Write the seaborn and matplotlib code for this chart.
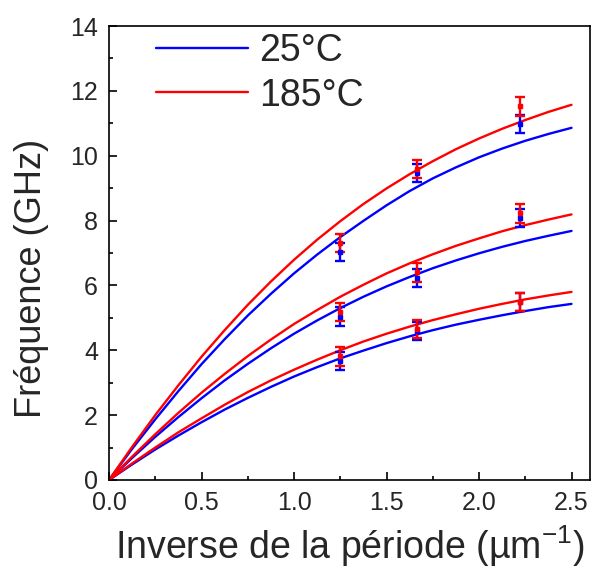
import matplotlib
matplotlib.use("Agg")
import matplotlib.pyplot as plt
from matplotlib.ticker import MultipleLocator, FormatStrFormatter
import seaborn as sns
import pandas as pd

# ---- curve samples (x in µm^-1, y in GHz) ----
x_curve = [0.0, 0.125, 0.25, 0.375, 0.5, 0.625, 0.75, 0.875, 1.0, 1.125, 1.25,
           1.375, 1.5, 1.625, 1.75, 1.875, 2.0, 2.125, 2.25, 2.375, 2.5]
top_25 = [0.0, 0.96, 1.87, 2.74, 3.57, 4.34, 5.07, 5.74, 6.37, 6.95, 7.49,
          7.99, 8.47, 8.91, 9.30, 9.64, 9.95, 10.22, 10.46, 10.67, 10.86]
mid_25 = [0.0, 0.68, 1.33, 1.94, 2.52, 3.07, 3.58, 4.06, 4.51, 4.92, 5.30,
          5.65, 5.97, 6.26, 6.53, 6.77, 6.99, 7.19, 7.37, 7.53, 7.68]
bot_25 = [0.0, 0.48, 0.94, 1.37, 1.78, 2.17, 2.53, 2.87, 3.19, 3.48, 3.75,
          3.99, 4.22, 4.43, 4.62, 4.79, 4.94, 5.08, 5.21, 5.33, 5.43]
top_185 = [0.0, 1.02, 2.00, 2.92, 3.80, 4.62, 5.40, 6.12, 6.79, 7.41, 7.98,
           8.51, 8.99, 9.43, 9.83, 10.20, 10.53, 10.83, 11.10, 11.35, 11.57]
mid_185 = [0.0, 0.72, 1.41, 2.07, 2.69, 3.27, 3.82, 4.33, 4.81, 5.24, 5.65,
           6.02, 6.37, 6.68, 6.96, 7.22, 7.45, 7.67, 7.86, 8.03, 8.19]
bot_185 = [0.0, 0.51, 1.00, 1.47, 1.90, 2.32, 2.71, 3.07, 3.40, 3.71, 4.00,
           4.27, 4.51, 4.73, 4.93, 5.11, 5.28, 5.43, 5.57, 5.69, 5.80]

# ---- measured points with error bars ----
x_meas = [1.25, 1.667, 2.222]
meas_25 = {"top": [7.02, 9.47, 10.98], "mid": [5.04, 6.24, 8.08], "bot": [3.67, 4.60, 5.50]}
meas_185 = {"top": [7.31, 9.60, 11.52], "mid": [5.18, 6.40, 8.22], "bot": [3.81, 4.65, 5.50]}
err_25 = [0.28, 0.28, 0.28]
err_185 = [0.28, 0.28, 0.28]

labels = ["25°C", "185°C"]
colors = {"25°C": "#0000FF", "185°C": "#FF0000"}

rows = []
for temp, curves in (("25°C", {"top": top_25, "mid": mid_25, "bot": bot_25}),
                     ("185°C", {"top": top_185, "mid": mid_185, "bot": bot_185})):
    for mode, ys in curves.items():
        for xv, yv in zip(x_curve, ys):
            rows.append({"x": xv, "y": yv, "temp": temp, "mode": mode})
df = pd.DataFrame(rows)

sns.set_style("ticks")
plt.rcParams["font.family"] = ["Liberation Sans", "DejaVu Sans"]
plt.rcParams["mathtext.fontset"] = "custom"
plt.rcParams["mathtext.rm"] = "Liberation Sans"

fig = plt.figure(figsize=(5.95, 5.74), dpi=100)
ax = fig.add_axes([0.1832, 0.1638, 0.8084, 0.7909])

sns.lineplot(data=df, x="x", y="y", hue="temp", units="mode", estimator=None,
             palette=colors, hue_order=labels, linewidth=1.7, ax=ax, sort=False,
             legend=False)

for temp, meas, err in (("25°C", meas_25, err_25), ("185°C", meas_185, err_185)):
    for mode in ("top", "mid", "bot"):
        ax.errorbar(x_meas, meas[mode], yerr=err, fmt="s", color=colors[temp],
                    ms=3.2, elinewidth=1.7, capsize=3.8, capthick=1.7, zorder=3)

ax.set_xlim(0, 2.6)
ax.set_ylim(0, 14)
ax.xaxis.set_major_locator(MultipleLocator(0.5))
ax.xaxis.set_minor_locator(MultipleLocator(0.25))
ax.yaxis.set_major_locator(MultipleLocator(2))
ax.yaxis.set_minor_locator(MultipleLocator(1))
ax.xaxis.set_major_formatter(FormatStrFormatter("%.1f"))
ax.yaxis.set_major_formatter(FormatStrFormatter("%d"))
ax.tick_params(which="both", direction="in", top=False, right=False, width=1.2,
               labelsize=18, color="black")
ax.tick_params(which="major", length=6, pad=8)
ax.tick_params(which="minor", length=3)
for s in ax.spines.values():
    s.set_linewidth(1.2)
    s.set_color("black")
    s.set_visible(True)

ax.set_xlabel("Inverse de la période (µm$^{\\mathregular{-1}}$)", fontsize=27, labelpad=6)
ax.set_ylabel("Fréquence (GHz)", fontsize=26)
ax.yaxis.set_label_coords(-0.125, 0.445)

handles = [plt.Line2D([], [], color=colors[l], lw=1.7) for l in labels]
ax.legend(handles, labels, loc="upper left", bbox_to_anchor=(0.097, 0.984),
          frameon=False, fontsize=27, handlelength=2.45, handletextpad=0.3,
          labelspacing=0.22, borderpad=0, borderaxespad=0)

fig.savefig("out.png", dpi=100)
